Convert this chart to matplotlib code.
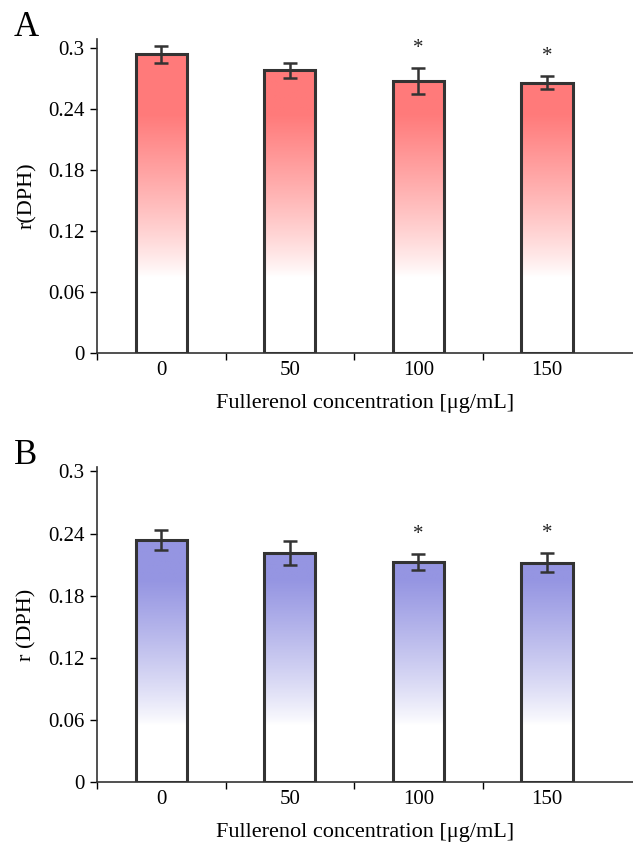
import matplotlib
matplotlib.use("Agg")
import matplotlib.pyplot as plt
import numpy as np
from matplotlib.patches import Rectangle

plt.rcParams['font.family'] = ['Liberation Serif', 'DejaVu Serif']

# data
concentrations = ['0', '50', '100', '150']
mean_a = [0.2938, 0.2784, 0.2678, 0.2659]
err_a = [0.0080, 0.0074, 0.0130, 0.0064]
mean_b = [0.2336, 0.2213, 0.2127, 0.2117]
err_b = [0.0095, 0.0113, 0.0077, 0.0092]
signif = [False, False, True, True]
yticks = [0, 0.06, 0.12, 0.18, 0.24, 0.3]
ytick_labels = ['0', '0.06', '0.12', '0.18', '0.24', '0.3']

fig = plt.figure(figsize=(6.33, 8.43), dpi=100)
ax_a = fig.add_axes([0.1532, 0.5813, 0.8468, 0.3725])
ax_b = fig.add_axes([0.1532, 0.0724, 0.8468, 0.3737])

edge = '#333333'


def gradient_bars(ax, means, errs, color, v_low, v_high, ytop, ylab, letter):
    x = np.arange(len(means))
    w = 0.4
    rgb = np.array(matplotlib.colors.to_rgb(color))
    for xi, m, e, s in zip(x, means, errs, signif):
        vals = np.linspace(0, m, 300)
        t = np.clip((vals - v_low) / (v_high - v_low), 0, 1) ** 0.85
        img = 1 - t[:, None] * (1 - rgb[None, :])
        img = img[:, None, :]
        im = ax.imshow(img, extent=(xi - w / 2, xi + w / 2, 0, m), origin='lower',
                       aspect='auto', zorder=1, interpolation='bilinear')
        rect = Rectangle((xi - w / 2, 0), w, m, facecolor='none', edgecolor=edge,
                         linewidth=2.2, zorder=2)
        ax.add_patch(rect)
        im.set_clip_path(rect)
        ax.errorbar(xi, m, yerr=e, fmt='none', ecolor=edge, elinewidth=1.8,
                    capsize=5, capthick=1.8, zorder=3)
        if s:
            ax.annotate('*', (xi, m + e), xytext=(0, 14), textcoords='offset points',
                        ha='center', va='center', fontsize=15, color='#222222')
    ax.set_xlim(-0.5, 3.67)
    ax.set_ylim(0, ytop)
    ax.set_yticks(yticks)
    ax.set_yticklabels(ytick_labels, fontsize=15)
    ax.set_xticks([-0.5, 0.5, 1.5, 2.5])
    ax.set_xticklabels([])
    ax.set_xticks(x, minor=True)
    ax.set_xticklabels(concentrations, minor=True, fontsize=15)
    ax.tick_params(axis='x', which='minor', length=0, pad=6)
    ax.tick_params(axis='x', which='major', length=5, width=1, direction='out')
    ax.tick_params(axis='y', length=5, width=1, direction='out', pad=4)
    for sp in ['top', 'right']:
        ax.spines[sp].set_visible(False)
    for sp in ['left', 'bottom']:
        ax.spines[sp].set_color(edge)
        ax.spines[sp].set_linewidth(1.2)
    ax.set_ylabel(ylab, fontsize=16, labelpad=8)
    ax.set_xlabel('Fullerenol concentration [μg/mL]', fontsize=16, labelpad=10)
    ax.text(-0.155, 1.035, letter, transform=ax.transAxes, fontsize=25,
            ha='left', va='center')


gradient_bars(ax_a, mean_a, err_a, '#ff7a7a', 0.075, 0.235, 0.309, 'r(DPH)', 'A')
gradient_bars(ax_b, mean_b, err_b, '#9595e2', 0.055, 0.195, 0.3043, 'r (DPH)', 'B')

fig.savefig('out.png', dpi=100)
